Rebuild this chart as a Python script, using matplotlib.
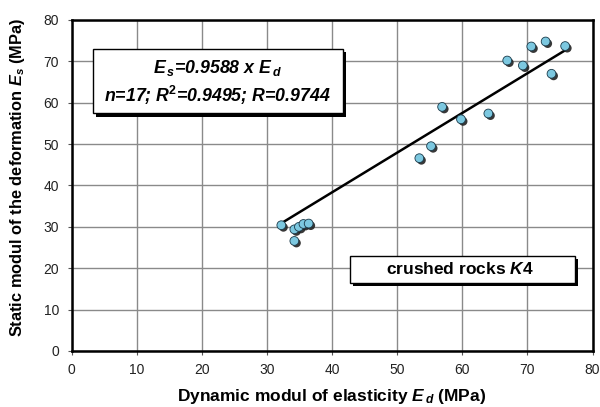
import numpy as np
import matplotlib
matplotlib.use("Agg")
import matplotlib.pyplot as plt
import matplotlib.patheffects as pe
from matplotlib.patches import FancyBboxPatch

plt.rcParams["font.family"] = ["Liberation Sans", "DejaVu Sans"]
plt.rcParams["mathtext.fontset"] = "custom"
plt.rcParams["mathtext.it"] = "Liberation Sans:bold:italic"
plt.rcParams["mathtext.rm"] = "Liberation Sans:bold"
plt.rcParams["mathtext.bf"] = "Liberation Sans:bold"

# dynamic modul Ed (MPa) vs static modul Es (MPa), crushed rocks K4
ed = [32.2, 34.2, 34.2, 34.9, 35.6, 36.4, 53.4, 55.2, 56.9, 59.8,
      64.0, 66.9, 69.3, 70.6, 72.8, 73.7, 75.8]
es = [30.4, 26.6, 29.4, 30.0, 30.7, 30.8, 46.6, 49.5, 59.0, 56.0,
      57.4, 70.2, 69.0, 73.6, 74.8, 67.0, 73.7]
slope = 0.9588
x_ticks = [0, 10, 20, 30, 40, 50, 60, 70, 80]
y_ticks = [0, 10, 20, 30, 40, 50, 60, 70, 80]

fig = plt.figure(figsize=(6.0, 4.07), dpi=100)
ax = fig.add_axes([0.1195, 0.1376, 0.868, 0.8133])

ax.set_xlim(0, 80)
ax.set_ylim(0, 80)
ax.set_xticks(x_ticks)
ax.set_yticks(y_ticks)
ax.grid(True, color="#8a8a8a", linewidth=1.0)
ax.set_axisbelow(True)
for s in ax.spines.values():
    s.set_linewidth(1.8)
    s.set_color("black")
ax.tick_params(direction="out", length=3, width=0.8, color="#555555",
               labelsize=10, labelcolor="#222222", pad=6)

# regression line through the data range
xl = np.array([min(ed), max(ed)])
ax.plot(xl, slope * xl, color="black", linewidth=1.8, zorder=3)

ax.scatter(ed, es, s=40, color="#7cc8e0", edgecolors="#1a3a4a",
           linewidths=0.6, zorder=4,
           path_effects=[pe.SimplePatchShadow(offset=(1.5, -1.5),
                                              shadow_rgbFace="#222222", alpha=0.9),
                         pe.Normal()])

ax.set_xlabel(r"Dynamic modul of elasticity $E_{\,d}$ (MPa)", fontsize=12.5,
              fontweight="bold", labelpad=7)
ax.set_ylabel(r"Static modul of the deformation $E_s$ (MPa)", fontsize=11.8,
              fontweight="bold")
ax.yaxis.set_label_coords(-0.086, 0.525)


def shadow_box(x0, y0, x1, y1):
    sh = FancyBboxPatch((x0 + 0.5, y0 - 0.8), x1 - x0, y1 - y0,
                        boxstyle="square,pad=0", facecolor="black",
                        edgecolor="none", zorder=5)
    bx = FancyBboxPatch((x0, y0), x1 - x0, y1 - y0, boxstyle="square,pad=0",
                        facecolor="white", edgecolor="black", linewidth=1.0,
                        zorder=6)
    ax.add_patch(sh)
    ax.add_patch(bx)


shadow_box(3.3, 57.4, 41.6, 73.1)
ax.text(22.4, 68.4, r"$E_{\,s}$=0.9588 x $E_{\,d}$", ha="center", va="center",
        fontsize=12.8, fontweight="bold", fontstyle="italic", zorder=7)
ax.text(22.4, 61.8, r"n=17; R$^2$=0.9495; R=0.9744", ha="center", va="center",
        fontsize=12.8, fontweight="bold", fontstyle="italic", zorder=7)

shadow_box(42.7, 16.4, 77.3, 23.0)
ax.text(59.6, 19.7, r"crushed rocks $K4$", ha="center", va="center",
        fontsize=12.5, fontweight="bold", zorder=7)

fig.savefig("out.png", dpi=100)
